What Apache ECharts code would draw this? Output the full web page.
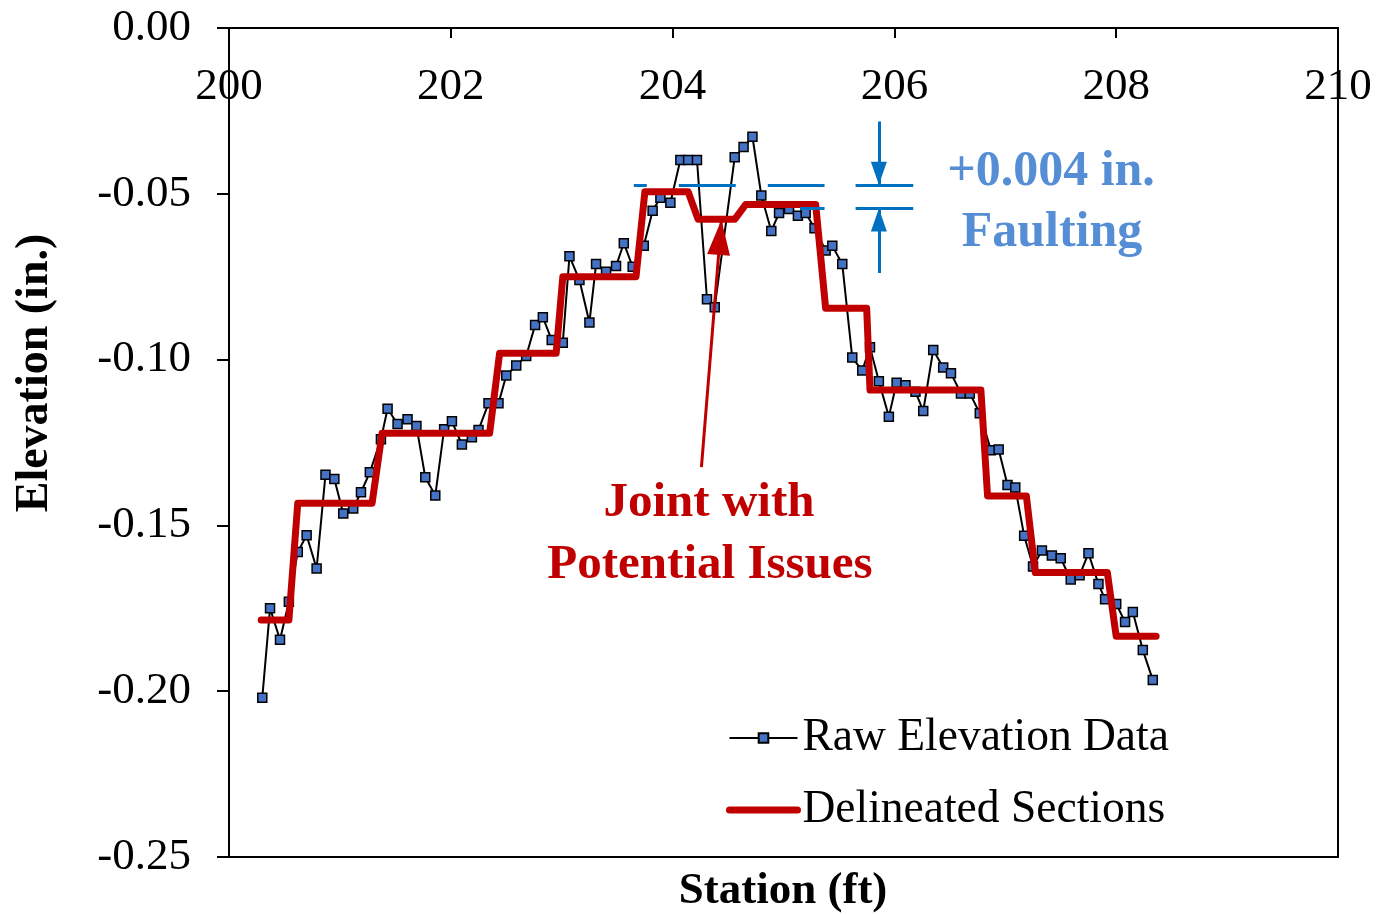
<!DOCTYPE html>
<html>
<head>
<meta charset="utf-8">
<script src="https://cdn.jsdelivr.net/npm/echarts@6/dist/echarts.min.js"></script>
<style>
  html, body { margin: 0; padding: 0; background: #fff; }
  #chart { width: 1377px; height: 915px; }
</style>
</head>
<body>
<div id="chart"></div>
<script>
// raw survey readings (station ft, elevation in.)
var rawStation = [200.30, 200.37, 200.46, 200.54, 200.62, 200.70, 200.79, 200.87, 200.95, 201.03,
  201.12, 201.19, 201.27, 201.37, 201.43, 201.52, 201.61, 201.69, 201.77, 201.86,
  201.94, 202.01, 202.10, 202.19, 202.25, 202.34, 202.43, 202.50, 202.59, 202.68,
  202.76, 202.83, 202.91, 203.01, 203.07, 203.16, 203.25, 203.31, 203.40, 203.49,
  203.56, 203.64, 203.74, 203.82, 203.89, 203.98, 204.07, 204.14, 204.22, 204.31,
  204.38, 204.56, 204.64, 204.72, 204.80, 204.89, 204.96, 205.05, 205.13, 205.20,
  205.28, 205.38, 205.44, 205.53, 205.62, 205.71, 205.78, 205.86, 205.95, 206.02,
  206.10, 206.19, 206.26, 206.35, 206.44, 206.51, 206.60, 206.68, 206.77, 206.87,
  206.94, 207.02, 207.09, 207.17, 207.25, 207.33, 207.42, 207.50, 207.59, 207.67,
  207.75, 207.84, 207.90, 208.00, 208.08, 208.15, 208.24, 208.33];
var rawElev = [-0.2020, -0.1750, -0.1845, -0.1730, -0.1580, -0.1530, -0.1630, -0.1347, -0.1360, -0.1464,
  -0.1449, -0.1400, -0.1340, -0.1240, -0.1148, -0.1194, -0.1180, -0.1200, -0.1355, -0.1410,
  -0.1210, -0.1186, -0.1256, -0.1234, -0.1212, -0.1132, -0.1132, -0.1048, -0.1018, -0.0989,
  -0.0896, -0.0872, -0.0941, -0.0949, -0.0688, -0.0760, -0.0888, -0.0712, -0.0735, -0.0718,
  -0.0649, -0.0720, -0.0657, -0.0551, -0.0512, -0.0527, -0.0398, -0.0398, -0.0398, -0.0818,
  -0.0842, -0.0390, -0.0359, -0.0328, -0.0505, -0.0612, -0.0558, -0.0546, -0.0566, -0.0558,
  -0.0604, -0.0671, -0.0657, -0.0712, -0.0994, -0.1033, -0.0963, -0.1065, -0.1172, -0.1070,
  -0.1077, -0.1097, -0.1155, -0.0971, -0.1024, -0.1041, -0.1102, -0.1102, -0.1162, -0.1273,
  -0.1271, -0.1378, -0.1386, -0.1531, -0.1624, -0.1576, -0.1591, -0.1599, -0.1663, -0.1650,
  -0.1584, -0.1677, -0.1723, -0.1737, -0.1791, -0.1761, -0.1876, -0.1966];

// delineated sections (step outline)
var secStation = [200.29, 200.54, 200.62, 201.29, 201.38, 202.35, 202.44, 202.95, 203.01, 203.67,
  203.75, 204.14, 204.23, 204.56, 204.66, 205.29, 205.38, 205.75, 205.78, 206.78,
  206.84, 207.19, 207.27, 207.92, 208.00, 208.36];
var secElev = [-0.1785, -0.1785, -0.1433, -0.1433, -0.1222, -0.1222, -0.0981, -0.0981, -0.0750, -0.0750,
  -0.0494, -0.0494, -0.0577, -0.0577, -0.0532, -0.0532, -0.0845, -0.0845, -0.1092, -0.1092,
  -0.1411, -0.1411, -0.1642, -0.1642, -0.1834, -0.1834];

// faulting annotation levels
var faultUpper = -0.0473;
var faultLower = -0.0544;
var faultTickX = [205.65, 206.17];
var faultArrowX = 205.86;
var faultArrowTop = -0.0282;
var faultArrowBottom = -0.0739;
var dashRange = [203.65, 205.37];
var lowerRange = [205.15, 205.37];

// joint arrow (tail, tip)
var jointArrow = [[204.26, -0.1324], [204.44, -0.0579]];

var yTicks = ['0.00', '-0.05', '-0.10', '-0.15', '-0.20', '-0.25'];

var serif = '"Times New Roman", "Liberation Serif", serif';
var blue = '#0070C0';
var red = '#C00000';

function zip(a, b) {
    return a.map(function (v, i) { return [v, b[i]]; });
}

var chart = echarts.init(document.getElementById('chart'));

var option = {
    animation: false,
    backgroundColor: '#fff',
    textStyle: { fontFamily: serif },
    grid: {
        left: 229, right: 39, top: 28, bottom: 58,
        show: true, borderColor: '#000', borderWidth: 2
    },
    legend: {
        orient: 'vertical',
        left: 726, top: 715, padding: 0,
        itemWidth: 68, itemHeight: 12, itemGap: 26,
        textStyle: { fontFamily: serif, fontSize: 45.5, color: '#000' },
        data: [
            'Raw Elevation Data',
            { name: 'Delineated Sections', itemStyle: { opacity: 0 }, lineStyle: { width: 7, cap: 'round' } }
        ]
    },
    xAxis: {
        type: 'value', position: 'top',
        min: 200, max: 210, interval: 2,
        axisLine: { onZero: false, lineStyle: { color: '#000', width: 2 } },
        axisTick: { inside: true, length: 10, lineStyle: { color: '#000', width: 2 } },
        axisLabel: { inside: true, margin: 37, fontSize: 45, color: '#000', fontFamily: serif },
        splitLine: { show: false }
    },
    yAxis: {
        type: 'value',
        min: -0.25, max: 0, interval: 0.05,
        axisLine: { show: true, onZero: false, lineStyle: { color: '#000', width: 2 } },
        axisTick: { show: true, length: 12, lineStyle: { color: '#000', width: 2 } },
        axisLabel: {
            margin: 38, fontSize: 45, color: '#000', fontFamily: serif,
            formatter: function (v) {
                var i = Math.round(-v / 0.05);
                return yTicks[i];
            }
        },
        splitLine: { show: false }
    },
    series: [
        {
            name: 'Raw Elevation Data',
            type: 'line',
            data: zip(rawStation, rawElev),
            symbol: 'rect', symbolSize: 9,
            itemStyle: { color: '#4472C4', borderColor: '#000', borderWidth: 1.5 },
            lineStyle: { color: '#000', width: 2 },
            z: 2
        },
        {
            name: 'Delineated Sections',
            type: 'line',
            data: zip(secStation, secElev),
            symbol: 'none',
            itemStyle: { color: red },
            lineStyle: { color: red, width: 7, cap: 'round', join: 'round' },
            z: 3
        },
        {
            name: 'fault dashed',
            type: 'lines', coordinateSystem: 'cartesian2d',
            symbol: 'none', silent: true, z: 4,
            lineStyle: { color: blue, width: 3, type: [57, 32], dashOffset: 44, opacity: 1 },
            data: [{ coords: [[dashRange[0], faultUpper], [dashRange[1], faultUpper]] }]
        },
        {
            name: 'fault solid',
            type: 'lines', coordinateSystem: 'cartesian2d',
            symbol: 'none', silent: true, z: 4,
            lineStyle: { color: blue, width: 3, opacity: 1 },
            data: [
                { coords: [[lowerRange[0], faultLower], [lowerRange[1], faultLower]] },
                { coords: [[faultTickX[0], faultUpper], [faultTickX[1], faultUpper]] },
                { coords: [[faultTickX[0], faultLower], [faultTickX[1], faultLower]] },
                { coords: [[faultArrowX, faultArrowTop], [faultArrowX, faultUpper]] },
                { coords: [[faultArrowX, faultArrowBottom], [faultArrowX, faultLower]] }
            ]
        },
        {
            name: 'joint arrow',
            type: 'lines', coordinateSystem: 'cartesian2d',
            symbol: 'none', silent: true, z: 5,
            lineStyle: { color: red, width: 3, opacity: 1 },
            data: [{ coords: jointArrow }]
        }
    ]
};

chart.setOption(option);

// arrow heads placed through the chart's own scales
function arrowHead(from, to, len, width, color) {
    var a = chart.convertToPixel({ gridIndex: 0 }, from);
    var b = chart.convertToPixel({ gridIndex: 0 }, to);
    var dx = b[0] - a[0], dy = b[1] - a[1];
    var d = Math.sqrt(dx * dx + dy * dy);
    dx /= d; dy /= d;
    var bx = b[0] - dx * len, by = b[1] - dy * len;
    var px = -dy * width / 2, py = dx * width / 2;
    return {
        type: 'polygon', z: 100, silent: true,
        shape: { points: [[b[0], b[1]], [bx + px, by + py], [bx - px, by - py]] },
        style: { fill: color }
    };
}

chart.setOption({
    graphic: [
        { type: 'text', x: 783, y: 891, style: { text: 'Station (ft)', font: 'bold 45px ' + serif, fill: '#000', align: 'center', verticalAlign: 'middle' } },
        { type: 'text', x: 35, y: 373, rotation: Math.PI / 2, style: { text: 'Elevation (in.)', font: 'bold 46px ' + serif, fill: '#000', align: 'center', verticalAlign: 'middle' } },
        { type: 'text', x: 1051, y: 172, style: { text: '+0.004 in.', font: 'bold 50px ' + serif, fill: '#558ED5', align: 'center', verticalAlign: 'middle' } },
        { type: 'text', x: 1052, y: 233, style: { text: 'Faulting', font: 'bold 50px ' + serif, fill: '#558ED5', align: 'center', verticalAlign: 'middle' } },
        { type: 'text', x: 709, y: 503, style: { text: 'Joint with', font: 'bold 49px ' + serif, fill: red, align: 'center', verticalAlign: 'middle' } },
        { type: 'text', x: 710, y: 565, style: { text: 'Potential Issues', font: 'bold 49px ' + serif, fill: red, align: 'center', verticalAlign: 'middle' } },
        arrowHead(jointArrow[0], jointArrow[1], 35, 23, red),
        arrowHead([faultArrowX, faultArrowTop], [faultArrowX, faultUpper], 23, 16, blue),
        arrowHead([faultArrowX, faultArrowBottom], [faultArrowX, faultLower], 23, 16, blue)
    ]
});
</script>
</body>
</html>
